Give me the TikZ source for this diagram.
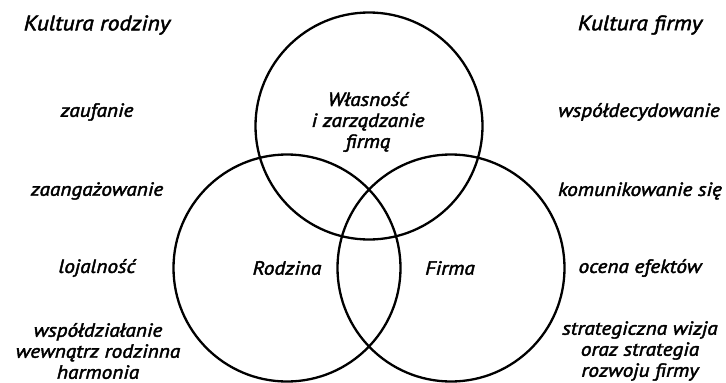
\documentclass[tikz,border=0pt]{standalone}
\usepackage{fontspec}
\setmainfont{PT Sans}[FakeStretch=1.12, FakeBold=2.2]

\tikzset{
  ring/.style={line width=2.3pt, draw=black},
  lbl/.style={font=\fontsize{19}{21}\selectfont\itshape, align=center, inner sep=0pt},
  head/.style={lbl, font=\fontsize{21}{21}\selectfont\itshape}
}

\begin{document}
\begin{tikzpicture}[x=1pt,y=1pt]
\useasboundingbox (0,0) rectangle (726,-383);
\draw[ring] (369.0000,-126.0000) circle (113.5);
\draw[ring] (287.0000,-268.0000) circle (113.5);
\draw[ring] (451.0000,-268.0000) circle (113.5);
\node[lbl] (own) at (368,-122) {Własność\\i zarządzanie\\firmą};
\node[lbl] (fam) at (287,-268) {Rodzina};
\node[lbl] (firm) at (450,-268) {Firma};
\node[head] (khead) at (97,-25) {Kultura rodziny};
\node[lbl] (k1) at (97,-112) {zaufanie};
\node[lbl] (k2) at (97,-191) {zaangażowanie};
\node[lbl] (k3) at (97,-268) {lojalność};
\node[lbl] (k4) at (98,-351) {współdziałanie\\wewnątrz rodzinna\\harmonia};
\node[head] (fhead) at (640,-25) {Kultura firmy};
\node[lbl] (f1) at (639,-112) {współdecydowanie};
\node[lbl] (f2) at (640,-191) {komunikowanie się};
\node[lbl] (f3) at (640,-268) {ocena efektów};
\node[lbl] (f4) at (640,-351) {strategiczna wizja\\oraz strategia\\rozwoju firmy};
\end{tikzpicture}
\end{document}
